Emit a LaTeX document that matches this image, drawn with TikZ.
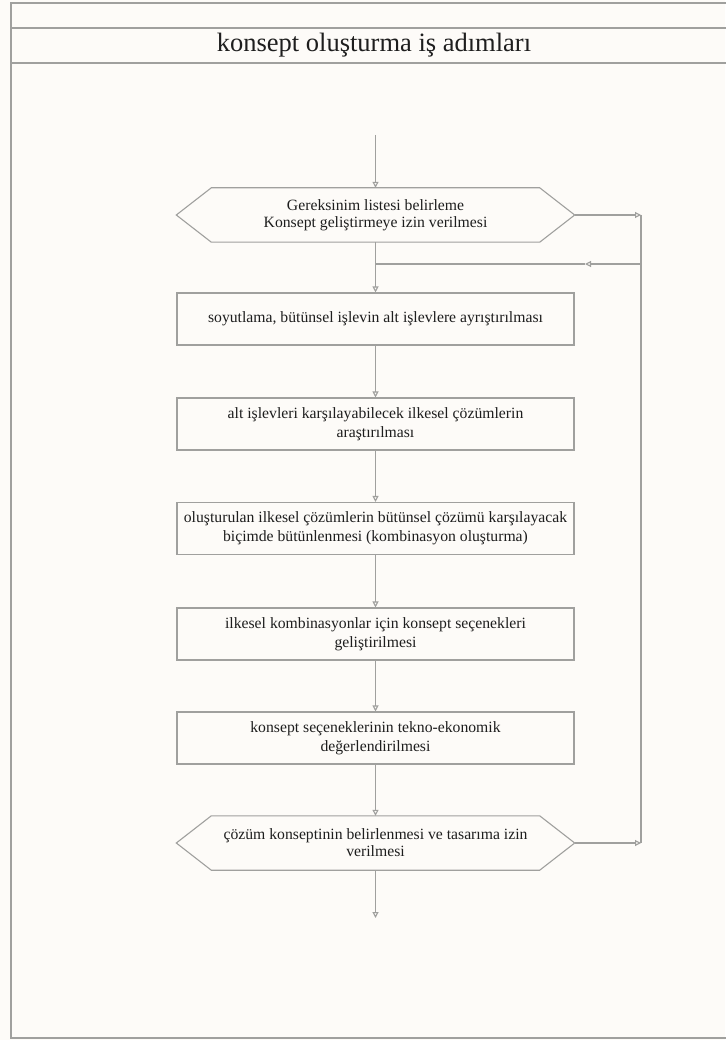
\documentclass[tikz,border=0pt]{standalone}
\usepackage{fontspec}
\setmainfont{Liberation Serif}
\usetikzlibrary{arrows.meta,calc}
\definecolor{bg}{RGB}{253,251,248}
\definecolor{ln}{RGB}{160,160,158}
\definecolor{tx}{RGB}{30,30,30}
\tikzset{
  stepbox/.style={draw=ln,line width=1.1pt,minimum width=397pt,minimum height=52pt,
    align=center,text=tx,font=\fontsize{15.7}{19}\selectfont,inner sep=2pt},
  hexbox/.style={draw=none,minimum width=398pt,minimum height=54pt,
    align=center,text=tx,font=\fontsize{15.7}{17}\selectfont,inner sep=2pt},
  hexline/.style={draw=ln,line width=1.1pt,line join=miter},
  conn/.style={draw=ln,line width=1.1pt,-{Triangle[open,length=6pt,width=6pt]}},
  plain/.style={draw=ln,line width=1.1pt},
  frame/.style={draw=ln,line width=1.4pt}
}
\begin{document}
\begin{tikzpicture}[x=1pt,y=-1pt]
\fill[bg] (0,0) rectangle (725,1040);
\useasboundingbox (0,0) rectangle (725,1040);
% frame
\draw[frame] (730,3) -- (11,3) -- (11,1038) -- (730,1038);
\draw[frame] (11,28) -- (730,28);
\draw[frame] (11,63) -- (730,63);
\node[text=tx,font=\fontsize{26.5}{30}\selectfont] (title) at (374,45) {konsept oluşturma iş adımları};

% nodes
\node[hexbox] (h1) at (375.5,215) {Gereksinim listesi belirleme\\Konsept geliştirmeye izin verilmesi};
\draw[hexline] (h1.west) -- ($(h1.north west)+(35,0)$) -- ($(h1.north east)+(-35,0)$) -- (h1.east)
   -- ($(h1.south east)+(-35,0)$) -- ($(h1.south west)+(35,0)$) -- cycle;
\node[stepbox] (b1) at (375.5,319) {soyutlama, bütünsel işlevin alt işlevlere ayrıştırılması};
\node[stepbox] (b2) at (375.5,424) {alt işlevleri karşılayabilecek ilkesel çözümlerin\\araştırılması};
\node[stepbox] (b3) at (375.5,528.5) {oluşturulan ilkesel çözümlerin bütünsel çözümü karşılayacak\\biçimde bütünlenmesi (kombinasyon oluşturma)};
\node[stepbox] (b4) at (375.5,634) {ilkesel kombinasyonlar için konsept seçenekleri\\geliştirilmesi};
\node[stepbox] (b5) at (375.5,738) {konsept seçeneklerinin tekno-ekonomik\\değerlendirilmesi};
\node[hexbox] (h2) at (375.5,843) {çözüm konseptinin belirlenmesi ve tasarıma izin\\verilmesi};
\draw[hexline] (h2.west) -- ($(h2.north west)+(35,0)$) -- ($(h2.north east)+(-35,0)$) -- (h2.east)
   -- ($(h2.south east)+(-35,0)$) -- ($(h2.south west)+(35,0)$) -- cycle;

% coordinates
\coordinate (start) at (375.5,135);
\coordinate (end) at (375.5,918);
\coordinate (r1) at (641,215);
\coordinate (r2) at (641,843);
\coordinate (fbR) at (641,264);
\coordinate (fbM) at (585,264);
\coordinate (fbL) at (375.5,264);

% connectors
\draw[conn] (start) -- (h1.north);
\draw[conn] (h1.south) -- (b1.north);
\draw[conn] (b1) -- (b2);
\draw[conn] (b2) -- (b3);
\draw[conn] (b3) -- (b4);
\draw[conn] (b4) -- (b5);
\draw[conn] (b5) -- (h2.north);
\draw[conn] (h2.south) -- (end);
\draw[conn] (h1.east) -- (r1);
\draw[conn] (h2.east) -- (r2);
\draw[plain] (r1) -- (r2);
\draw[conn] (fbR) -- (fbM);
\draw[plain] (fbM) -- (fbL);
\end{tikzpicture}
\end{document}
